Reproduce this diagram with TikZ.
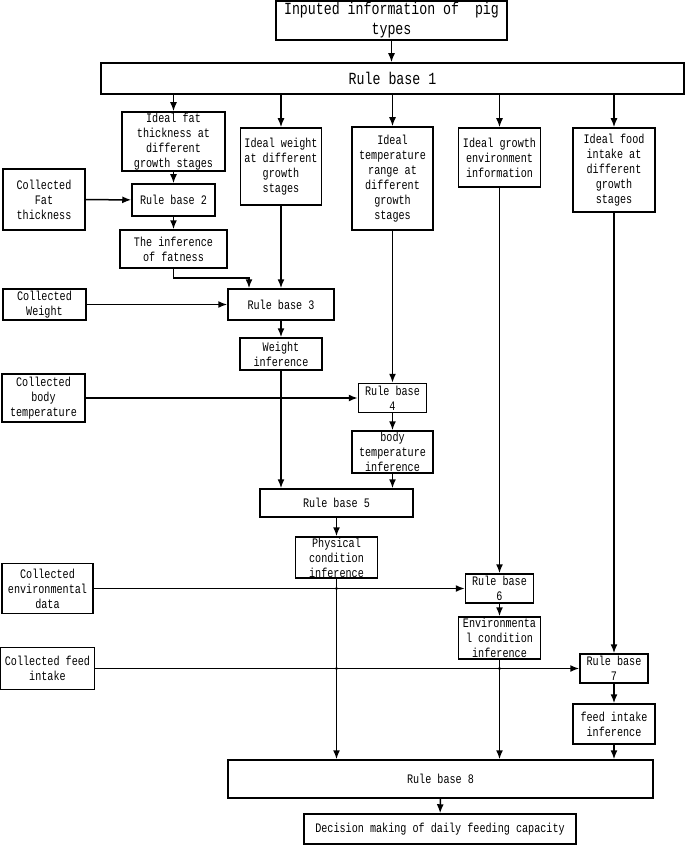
\documentclass[tikz,border=0pt]{standalone}
\usepackage{fontspec}
\newfontfamily\diagfont{Liberation Mono}[FakeStretch=0.78]
\usepackage{tikz}
\usetikzlibrary{arrows.meta}

\begin{document}
\begin{tikzpicture}[x=1pt, y=-1pt,
  box/.style={draw, line width=1.5pt, inner sep=0pt, align=center,
    font=\diagfont\fontsize{13}{15}\selectfont},
  bigbox/.style={box, font=\diagfont\fontsize{17}{20}\selectfont},
  arr/.style={line width=1.5pt, -{Latex[length=9pt,width=7pt]}}]
  \useasboundingbox (0,0) rectangle (685,845);
  % top of the chain
  \node[bigbox, minimum width=231pt, minimum height=39pt] (input) at (391.5,20.5) {Inputed information of~ pig\\types};
  \node[bigbox, minimum width=583pt, minimum height=31pt] (rb1) at (392.5,78.5) {Rule base 1};
  \node[box, minimum width=103pt, minimum height=59pt] (idfat) at (173.5,141.5) {Ideal fat\\thickness at\\different\\growth stages};
  \node[box, minimum width=81pt, minimum height=77pt] (idweight) at (281,166.5) {Ideal weight\\at different\\growth\\stages};
  \node[box, minimum width=81pt, minimum height=103pt] (idtemp) at (392.5,178.5) {Ideal\\temperature\\range at\\different\\growth\\stages};
  \node[box, minimum width=82pt, minimum height=59pt] (idenv) at (499.5,157.5) {Ideal growth\\environment\\information};
  \node[box, minimum width=82pt, minimum height=84pt] (idfood) at (614,170) {Ideal food\\intake at\\different\\growth\\stages};
  % collected data
  \node[box, minimum width=82pt, minimum height=61pt] (colfat) at (44,199.5) {Collected\\Fat\\thickness};
  \node[box, minimum width=83pt, minimum height=31pt] (colweight) at (44.5,304.5) {Collected\\Weight};
  \node[box, minimum width=83pt, minimum height=48pt] (coltemp) at (43.5,398) {Collected\\body\\temperature};
  \node[box, minimum width=91pt, minimum height=50pt] (colenv) at (47.5,588.5) {Collected\\environmental\\data};
  \node[box, minimum width=94pt, minimum height=42pt] (colfeed) at (47.5,668.5) {Collected feed\\intake};
  % rule bases and inferences
  \node[box, minimum width=83pt, minimum height=32pt] (rb2) at (173.5,200) {Rule base 2};
  \node[box, minimum width=107pt, minimum height=38pt] (inffat) at (173.5,249) {The inference\\of fatness};
  \node[box, minimum width=106pt, minimum height=31pt] (rb3) at (281,304.5) {Rule base 3};
  \node[box, minimum width=82pt, minimum height=32pt] (infweight) at (281,354) {Weight\\inference};
  \node[box, minimum width=68pt, minimum height=29pt] (rb4) at (392.5,398) {Rule base\\4};
  \node[box, minimum width=81pt, minimum height=42pt] (inftemp) at (392.5,452) {body\\temperature\\inference};
  \node[box, minimum width=153pt, minimum height=28pt] (rb5) at (336.5,503) {Rule base 5};
  \node[box, minimum width=82pt, minimum height=41pt] (infphys) at (336.5,557.5) {Physical\\condition\\inference};
  \node[box, minimum width=68pt, minimum height=29pt] (rb6) at (499.5,588.5) {Rule base\\6};
  \node[box, minimum width=82pt, minimum height=42pt] (infenv) at (499.5,638) {Environmenta\\l condition\\inference};
  \node[box, minimum width=68pt, minimum height=29pt] (rb7) at (614,668.5) {Rule base\\7};
  \node[box, minimum width=82pt, minimum height=40pt] (inffeed) at (614,724) {feed intake\\inference};
  \node[box, minimum width=425pt, minimum height=38pt] (rb8) at (440.5,779) {Rule base 8};
  \node[box, minimum width=272pt, minimum height=30pt] (decision) at (440,829) {Decision making of daily feeding capacity};
  % arrows
  \draw[arr] (input) -- (input |- rb1.north);
  \draw[arr] (rb1.south -| idfat) -- (idfat);
  \draw[arr] (rb1.south -| idweight) -- (idweight);
  \draw[arr] (rb1.south -| idtemp) -- (idtemp);
  \draw[arr] (rb1.south -| idenv) -- (idenv);
  \draw[arr] (rb1.south -| idfood) -- (idfood);
  \draw[arr] (idfat) -- (rb2);
  \draw[arr] (colfat) -- (rb2);
  \draw[arr] (rb2) -- (inffat);
  \draw[arr] (inffat.south) -- ++(0,9) -| ([xshift=-32pt]rb3.north);
  \draw[arr] (idweight) -- (rb3);
  \draw[arr] (colweight) -- (rb3);
  \draw[arr] (rb3) -- (infweight);
  \draw[arr] (infweight) -- (infweight |- rb5.north);
  \draw[arr] (coltemp) -- (rb4);
  \draw[arr] (idtemp) -- (rb4);
  \draw[arr] (rb4) -- (inftemp);
  \draw[arr] (inftemp) -- (inftemp |- rb5.north);
  \draw[arr] (rb5) -- (infphys);
  \draw[arr] (infphys) -- (infphys |- rb8.north);
  \draw[arr] (colenv) -- (rb6);
  \draw[arr] (idenv) -- (rb6);
  \draw[arr] (rb6) -- (infenv);
  \draw[arr] (infenv) -- (infenv |- rb8.north);
  \draw[arr] (colfeed) -- (rb7);
  \draw[arr] (idfood) -- (rb7);
  \draw[arr] (rb7) -- (inffeed);
  \draw[arr] (inffeed) -- (inffeed |- rb8.north);
  \draw[arr] (rb8) -- (decision);
  % crossing dots
  \foreach \v/\h in {infweight/coltemp, infphys/colenv, infphys/colfeed, infenv/colfeed}
    \fill (\v |- \h) circle (1.6pt);
\end{tikzpicture}
\end{document}
